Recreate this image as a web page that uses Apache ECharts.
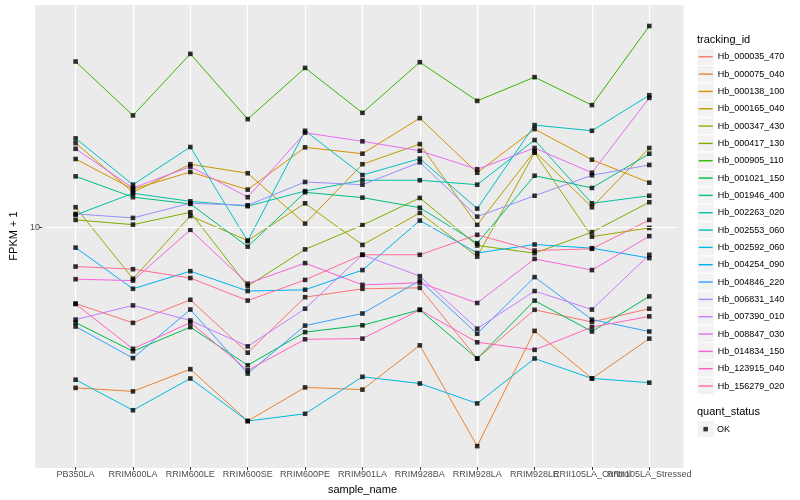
<!DOCTYPE html>
<html><head><meta charset="utf-8">
<script src="https://cdn.jsdelivr.net/npm/echarts@6/dist/echarts.min.js"></script>
<style>html,body{margin:0;padding:0;background:#fff}#c{width:800px;height:500px}</style>
</head><body><div id="c"></div>
<script>
// ---- data ----
const samples = ['PB350LA','RRIM600LA','RRIM600LE','RRIM600SE','RRIM600PE','RRIM901LA','RRIM928BA','RRIM928LA','RRIM928LE','RRII105LA_Control','RRII105LA_Stressed'];
const trackingIds = ['Hb_000035_470','Hb_000075_040','Hb_000138_100','Hb_000165_040','Hb_000347_430','Hb_000417_130','Hb_000905_110','Hb_001021_150','Hb_001946_400','Hb_002263_020','Hb_002553_060','Hb_002592_060','Hb_004254_090','Hb_004846_220','Hb_006831_140','Hb_007390_010','Hb_008847_030','Hb_014834_150','Hb_123915_040','Hb_156279_020'];
const colors = ['#F8766D','#EA8331','#D89000','#C09B00','#A3A500','#7CAE00','#39B600','#00BB4E','#00BF7D','#00C1A3','#00BFC4','#00BAE0','#00B0F6','#35A2FF','#9590FF','#C77CFF','#E76BF3','#FA62DB','#FF62BC','#FF6C91'];
const yTicks = [10];

const hb_000035_470 = [6.44, 5.76, 6.58, 4.85, 6.68, 7.01, 7.05, 4.69, 6.21, 5.79, 6.25];
const hb_000075_040 = [3.96, 3.88, 4.41, 3.27, 3.97, 3.92, 5.06, 2.83, 5.50, 4.18, 5.26];
const hb_000138_100 = [14.82, 12.45, 13.75, 12.42, 15.85, 15.28, 18.76, 13.69, 17.61, 14.76, 12.93];
const hb_000165_040 = [16.25, 12.23, 14.38, 13.65, 10.21, 14.38, 16.15, 10.13, 15.49, 11.22, 15.79];
const hb_000347_430 = [11.22, 7.43, 10.67, 9.26, 11.48, 9.03, 10.86, 8.44, 15.37, 9.47, 9.96];
const hb_000417_130 = [10.43, 10.15, 10.90, 7.12, 8.80, 10.12, 11.84, 9.00, 8.61, 9.72, 11.55];
const hb_000905_110 = [26.00, 19.05, 27.17, 18.65, 25.06, 19.34, 25.90, 20.72, 23.76, 20.22, 31.91];
const hb_001021_150 = [5.77, 4.89, 5.62, 4.51, 5.46, 5.68, 6.21, 4.69, 6.55, 5.48, 6.71];
const hb_001946_400 = [13.41, 11.89, 11.44, 8.94, 12.23, 11.86, 11.19, 9.12, 13.46, 12.54, 15.28];
const hb_002263_020 = [10.73, 12.16, 11.61, 11.29, 12.32, 13.11, 13.11, 12.78, 16.53, 11.48, 11.99];
const hb_002553_060 = [16.69, 12.78, 15.88, 9.23, 17.44, 13.51, 14.85, 11.13, 18.02, 17.44, 21.41];
const hb_002592_060 = [4.15, 3.48, 4.18, 3.27, 3.41, 4.22, 4.06, 3.62, 4.69, 4.18, 4.08];
const hb_004254_090 = [8.89, 7.01, 7.76, 6.92, 6.97, 7.81, 10.39, 8.62, 9.05, 8.86, 8.37];
const hb_004846_220 = [5.64, 4.70, 6.22, 4.30, 5.67, 6.08, 7.35, 5.41, 7.50, 5.87, 5.48];
const hb_006831_140 = [10.80, 10.55, 11.48, 11.35, 12.98, 12.78, 14.54, 10.63, 11.99, 13.49, 14.32];
const hb_007390_010 = [5.87, 6.37, 5.84, 5.03, 6.25, 8.53, 7.54, 5.57, 6.92, 6.22, 8.53];
const hb_008847_030 = [15.72, 12.54, 14.18, 11.89, 17.24, 16.41, 15.54, 13.97, 15.79, 13.69, 21.08];
const hb_014834_150 = [7.41, 7.35, 9.85, 7.22, 8.13, 7.17, 7.26, 6.46, 8.33, 7.81, 9.50];
const hb_123915_040 = [6.42, 4.96, 5.77, 4.38, 5.24, 5.26, 6.21, 5.15, 4.93, 5.62, 5.98];
const hb_156279_020 = [7.97, 7.85, 7.46, 6.55, 7.38, 8.53, 8.53, 9.57, 8.74, 8.83, 10.43];

const seriesValues = [hb_000035_470, hb_000075_040, hb_000138_100, hb_000165_040, hb_000347_430,
  hb_000417_130, hb_000905_110, hb_001021_150, hb_001946_400, hb_002263_020, hb_002553_060,
  hb_002592_060, hb_004254_090, hb_004846_220, hb_006831_140, hb_007390_010, hb_008847_030,
  hb_014834_150, hb_123915_040, hb_156279_020];
const statusNames = ['OK'];

// ---- chart ----
const FONT = '"Liberation Sans", Arial, Helvetica, sans-serif';
const allVals = seriesValues.flat();
const lmin = Math.log10(Math.min(...allVals)), lmax = Math.log10(Math.max(...allVals));
const pad = 0.05 * (lmax - lmin);
const yMin = Math.pow(10, lmin - pad), yMax = Math.pow(10, lmax + pad);

const PANEL = {x: 35, y: 5, w: 648.5, h: 463};
const KEY = {x: 697, y: 48.1, s: 17.33};

const graphics = [{id: 'panel', type: 'rect', z: -20, silent: true,
  shape: {x: PANEL.x, y: PANEL.y, width: PANEL.w, height: PANEL.h}, style: {fill: '#EBEBEB'}}];
trackingIds.forEach((id, i) => graphics.push({id: 'key' + i, type: 'rect', z: -20, silent: true,
  shape: {x: KEY.x, y: KEY.y + i * KEY.s, width: 17.28, height: 17.28},
  style: {fill: '#F2F2F2', stroke: '#FFFFFF', lineWidth: 1}}));
graphics.push({id: 'keyOK', type: 'rect', z: -20, silent: true,
  shape: {x: KEY.x, y: 420.5, width: 17.28, height: 17.28},
  style: {fill: '#F2F2F2', stroke: '#FFFFFF', lineWidth: 1}});

const lineSeries = trackingIds.map((id, i) => ({
  name: id, type: 'line', data: seriesValues[i], color: colors[i],
  symbol: 'none', showSymbol: false,
  lineStyle: {width: 1, color: colors[i]},
  emphasis: {disabled: true}, z: 2
}));
const pts = [];
seriesValues.forEach(arr => arr.forEach((v, j) => pts.push([samples[j], v])));

// horizontal major gridlines (under the data lines)
const gridSeries = {
  name: '_grid', type: 'line', data: [], z: 1, silent: true, symbol: 'none',
  markLine: {
    silent: true, symbol: ['none', 'none'], animation: false,
    label: {show: false},
    lineStyle: {color: '#FFFFFF', width: 1.2, type: 'solid'},
    emphasis: {disabled: true},
    data: yTicks.map(t => ({yAxis: t}))
  }
};

const chart = echarts.init(document.getElementById('c'));
chart.setOption({
  animation: false,
  backgroundColor: '#FFFFFF',
  textStyle: {fontFamily: FONT},
  grid: {left: 40, right: 122, top: 5, bottom: 32},
  title: [
    {text: 'tracking_id', left: 697, top: 34, padding: 0,
      textStyle: {fontSize: 11, fontWeight: 'normal', color: '#000', fontFamily: FONT}},
    {text: 'quant_status', left: 697, top: 406, padding: 0,
      textStyle: {fontSize: 11, fontWeight: 'normal', color: '#000', fontFamily: FONT}}
  ],
  legend: [
    {data: trackingIds.map((id, i) => ({name: id, icon: 'rect', itemStyle: {color: colors[i]}})),
      orient: 'vertical', left: 698.7, top: KEY.y, itemWidth: 14, itemHeight: 1.4, itemGap: 0,
      padding: 0, selectedMode: false,
      textStyle: {fontSize: 9, color: '#000', lineHeight: 17.33, fontFamily: FONT}},
    {data: statusNames.map(n => ({name: n, icon: 'rect', itemStyle: {color: '#000'}})),
      orient: 'vertical', left: 703.4, top: 420.5, itemWidth: 4.5, itemHeight: 4.5, itemGap: 0,
      padding: 0, selectedMode: false,
      textStyle: {fontSize: 9, color: '#000', lineHeight: 17.28, padding: [0, 0, 0, 4], fontFamily: FONT}}
  ],
  xAxis: {
    type: 'category', data: samples, boundaryGap: true,
    name: 'sample_name', nameLocation: 'middle', nameGap: 14,
    nameTextStyle: {fontSize: 11, color: '#000', fontFamily: FONT},
    axisLine: {show: false},
    axisTick: {show: true, alignWithLabel: true, interval: 0, length: 3, lineStyle: {color: '#333333', width: 1}},
    axisLabel: {interval: 0, fontSize: 9, color: '#4D4D4D', margin: 3, hideOverlap: false, fontFamily: FONT},
    splitLine: {show: true, interval: 0, alignWithLabel: true, lineStyle: {color: '#FFFFFF', width: 1.2}}
  },
  yAxis: {
    type: 'log', logBase: 10, min: yMin, max: yMax, offset: 5,
    name: 'FPKM + 1', nameLocation: 'middle', nameGap: 17, nameRotate: 90,
    nameTextStyle: {fontSize: 11, color: '#000', fontFamily: FONT},
    axisLine: {show: false},
    axisTick: {show: true, length: 3, customValues: yTicks, lineStyle: {color: '#333333', width: 1}},
    axisLabel: {customValues: yTicks, fontSize: 9, color: '#4D4D4D', margin: 2, fontFamily: FONT},
    splitLine: {show: false}
  },
  graphic: graphics,
  series: [gridSeries].concat(lineSeries, [{
    name: 'OK', type: 'scatter', data: pts, symbol: 'rect', symbolSize: 4.6,
    itemStyle: {color: '#000'}, emphasis: {disabled: true}, z: 3
  }])
});
</script>
</body></html>
